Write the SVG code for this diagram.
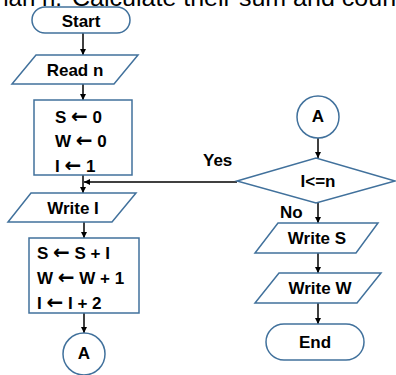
<svg xmlns="http://www.w3.org/2000/svg" width="396" height="375" viewBox="0 0 396 375">
<defs>
<style>
.s{fill:#fff;stroke:#41719c;stroke-width:1.5}
.t{font-family:"Liberation Sans",Arial,sans-serif;font-weight:bold;font-size:17px;fill:#000}
.c{text-anchor:middle}
.a{font-family:"DejaVu Sans",sans-serif;font-weight:bold;font-size:20px}
.e{stroke:#000;stroke-width:1.5;fill:none}
</style>
<marker id="ah" viewBox="0 0 10 10" refX="10" refY="5" markerWidth="6" markerHeight="6" orient="auto-start-reverse" markerUnits="userSpaceOnUse">
<path d="M0,0 L10,5 L0,10 z" fill="#000"/>
</marker>
</defs>
<rect width="396" height="375" fill="#fff"/>
<text x="62" y="6" font-family="Liberation Sans,Arial,sans-serif" font-size="24" text-anchor="end">han n.</text>
<text x="72" y="6" font-family="Liberation Sans,Arial,sans-serif" font-size="24" textLength="331" lengthAdjust="spacingAndGlyphs">Calculate their sum and count</text>
<g id="connectors">
<line class="e" x1="83" y1="33" x2="83" y2="55" marker-end="url(#ah)"/>
<line class="e" x1="83" y1="84" x2="83" y2="100" marker-end="url(#ah)"/>
<line class="e" x1="83" y1="175" x2="83" y2="193" marker-end="url(#ah)"/>
<line class="e" x1="84" y1="222" x2="84" y2="238" marker-end="url(#ah)"/>
<line class="e" x1="84" y1="313" x2="84" y2="333" marker-end="url(#ah)"/>
<line class="e" x1="318" y1="138" x2="318" y2="158" marker-end="url(#ah)"/>
<line class="e" x1="237" y1="182" x2="84" y2="182" marker-end="url(#ah)"/>
<line class="e" x1="318" y1="203" x2="318" y2="223" marker-end="url(#ah)"/>
<line class="e" x1="318" y1="253" x2="318" y2="273" marker-end="url(#ah)"/>
<line class="e" x1="318" y1="303" x2="318" y2="324" marker-end="url(#ah)"/>
<text class="t" x="203" y="166">Yes</text>
<text class="t" x="280" y="218">No</text>
</g>
<g id="start">
<rect class="s" x="32" y="7" width="98" height="26" rx="13"/>
<text class="t c" x="81" y="27">Start</text>
</g>
<g id="read">
<polygon class="s" points="36,55 138,55 114,84 12,84"/>
<text class="t c" x="75" y="76">Read n</text>
</g>
<g id="init">
<rect class="s" x="34" y="100" width="98" height="75"/>
<text class="t" x="55" y="123">S <tspan class="a">←</tspan> 0</text>
<text class="t" x="55" y="147">W <tspan class="a">←</tspan> 0</text>
<text class="t" x="55" y="172">I <tspan class="a">←</tspan> 1</text>
</g>
<g id="writeI">
<polygon class="s" points="31,193 136,193 112,222 8,222"/>
<text class="t c" x="73" y="214">Write I</text>
</g>
<g id="update">
<rect class="s" x="29" y="238" width="110" height="75"/>
<text class="t" x="37" y="259">S <tspan class="a">←</tspan> S + I</text>
<text class="t" x="37" y="284">W <tspan class="a">←</tspan> W + 1</text>
<text class="t" x="37" y="309">I <tspan class="a">←</tspan> I + 2</text>
</g>
<g id="connA1">
<circle class="s" cx="84" cy="354" r="21"/>
<text class="t c" x="84" y="359" font-size="12">A</text>
</g>
<g id="connA2">
<circle class="s" cx="318" cy="117" r="21"/>
<text class="t c" x="318" y="122" font-size="12">A</text>
</g>
<g id="decision">
<polygon class="s" points="237,181 316,158 395,181 316,203"/>
<text class="t c" x="318" y="187">I&lt;=n</text>
</g>
<g id="writeS">
<polygon class="s" points="278,223 378,223 356,253 255,253"/>
<text class="t c" x="317" y="244">Write S</text>
</g>
<g id="writeW">
<polygon class="s" points="279,273 381,273 357,303 255,303"/>
<text class="t c" x="320" y="294">Write W</text>
</g>
<g id="end">
<rect class="s" x="266" y="324" width="98" height="36" rx="18"/>
<text class="t c" x="315" y="348">End</text>
</g>
</svg>
